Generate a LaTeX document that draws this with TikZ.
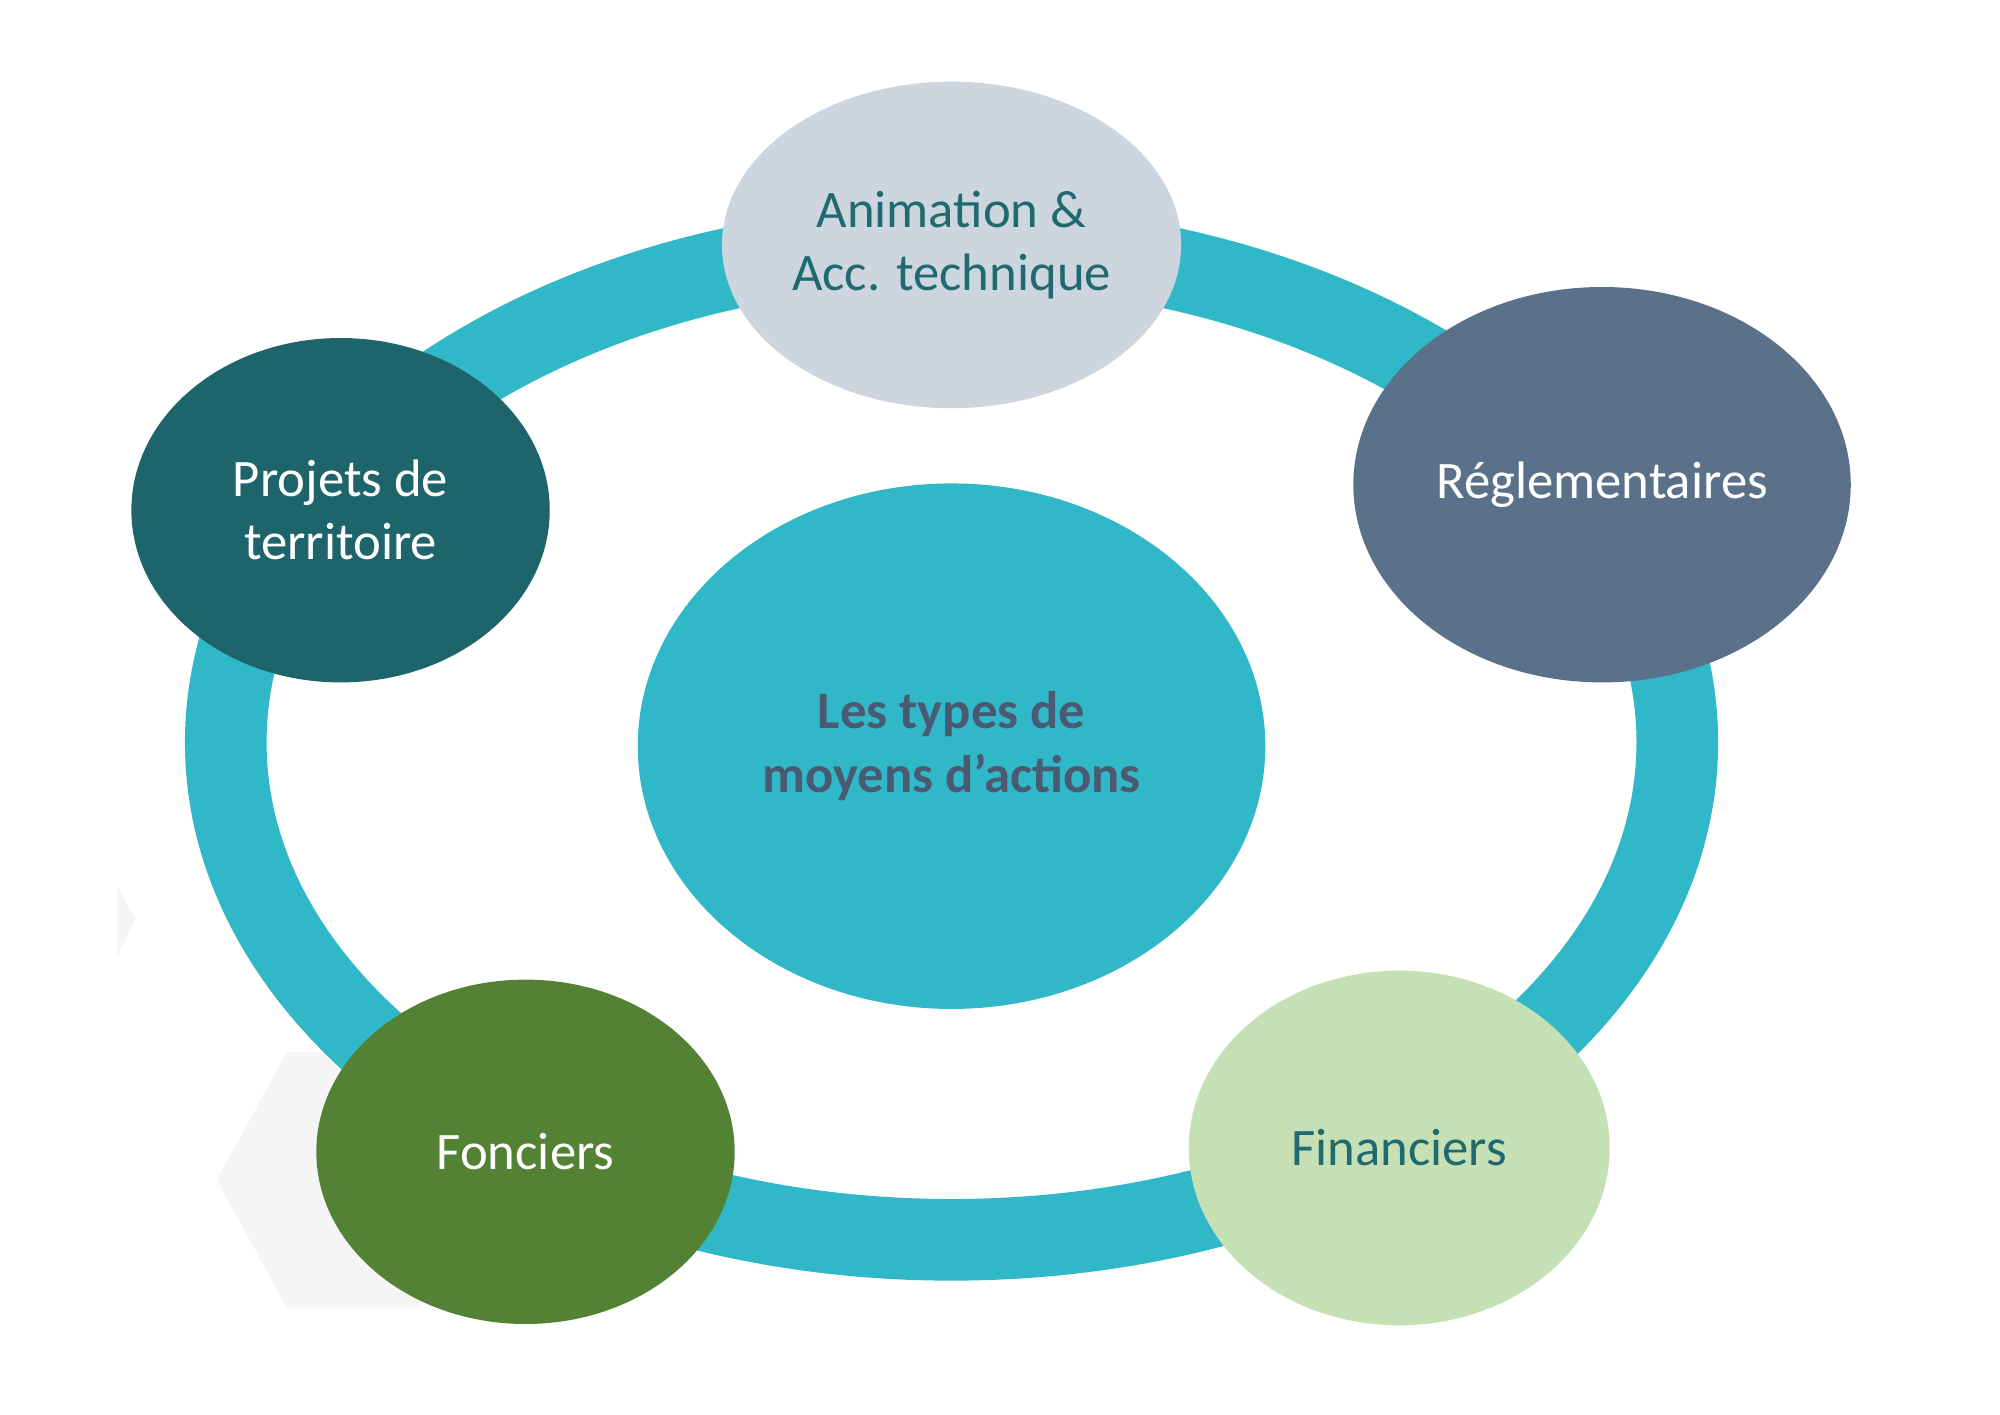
\documentclass[tikz,border=0pt]{standalone}
\usepackage{fontspec}
\setmainfont{Carlito}
\usetikzlibrary{shapes.geometric}
\definecolor{ring}{HTML}{31B8C8}
\definecolor{cTop}{HTML}{CDD5DF}
\definecolor{cReg}{HTML}{5B718A}
\definecolor{cProj}{HTML}{1D656B}
\definecolor{cFon}{HTML}{548235}
\definecolor{cFin}{HTML}{C5E0B4}
\definecolor{tTeal}{HTML}{1F6A6F}
\definecolor{tCenter}{HTML}{4A5A72}
\newlength\uu
\setlength{\uu}{0.012755cm}
\begin{document}
\begin{tikzpicture}[x=0.012755cm,y=-0.012755cm,
  blob/.style={ellipse,draw=none,align=center,inner sep=0pt,font=\fontsize{15}{18}\selectfont}]
\useasboundingbox[fill=white] (0,0) rectangle (1568,1108.6);
\fill[gray!8] (92,695) -- (106,720) -- (92,750) -- cycle;
\fill[gray!8] (225,825) -- (330,825) -- (330,1025) -- (225,1025) -- (170,925) -- cycle;
\draw[ring,line width=64\uu] (746,582) ellipse [x radius=569,y radius=390];
\node[blob,fill=cTop,minimum width=360\uu,minimum height=256\uu,text=tTeal] (top) at (746,192) {Animation \&\\Acc. technique};
\node[blob,fill=cReg,minimum width=390\uu,minimum height=310\uu,text=white] (reg) at (1256,380) {Réglementaires};
\node[blob,fill=cProj,minimum width=328\uu,minimum height=270\uu,text=white] (proj) at (267,400) {Projets de\\territoire};
\node[blob,fill=ring,minimum width=492\uu,minimum height=412\uu,text=tCenter,font=\fontsize{15}{18}\selectfont\bfseries] (mid) at (746,585) {Les types de\\moyens d’actions};
\node[blob,fill=cFon,minimum width=328\uu,minimum height=270\uu,text=white] (fon) at (412,903) {Fonciers};
\node[blob,fill=cFin,minimum width=330\uu,minimum height=278\uu,text=tTeal] (fin) at (1097,900) {Financiers};
\end{tikzpicture}
\end{document}
